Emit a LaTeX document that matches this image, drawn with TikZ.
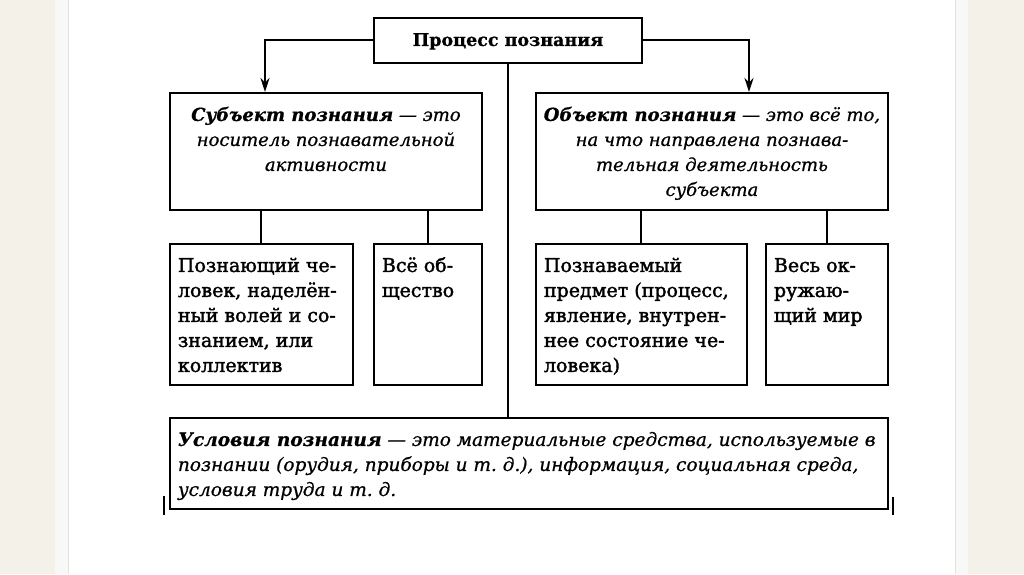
\documentclass[tikz,border=0pt]{standalone}
\usepackage{fontspec}
\setmainfont{DejaVu Serif}[FakeBold=0.8]
\newfontfamily\heavyfont{DejaVu Serif}[FakeBold=1.8]
\usetikzlibrary{arrows.meta}
\definecolor{PageCream}{HTML}{F4F2E8}
\definecolor{PageEdge}{HTML}{F8F8F7}
\definecolor{EdgeLine}{HTML}{E1E1E1}
\newcommand{\boxtext}[4]{\parbox[c][#2][t]{#1}{#3\rule{0pt}{28pt}#4}}

\begin{document}
\begin{tikzpicture}[x=1pt, y=-1pt,
    box/.style={draw, line width=1.9pt, anchor=north west, inner xsep=8pt, inner ysep=0pt,
      font=\fontsize{19}{25}\selectfont},
    plain/.style={box, font=\heavyfont\fontsize{19}{25}\selectfont},
    slanted/.style={box, inner xsep=2pt, font=\fontsize{18}{25}\selectfont},
    link/.style={line width=2pt},
    arr/.style={line width=2pt, -{Stealth[length=14pt,width=9pt]}}]
  \useasboundingbox (0,0) rectangle (1024,574);
  % page edges
  \fill[PageCream] (0,0) rectangle (55,574);
  \fill[PageEdge] (55,0) rectangle (68,574);
  \fill[PageEdge] (955,0) rectangle (968,574);
  \fill[PageCream] (968,0) rectangle (1024,574);
  \draw[EdgeLine] (68,0) -- (68,574);
  \draw[EdgeLine] (955,0) -- (955,574);

  \node[box, font=\fontsize{17.5}{25}\selectfont] at (373, 17) (proc) {\boxtext{252pt}{45pt}{\centering\bfseries}{Процесс познания}};
  \node[slanted] at (169, 92) (subj) {\boxtext{308pt}{117pt}{\centering\itshape}{\textbf{Субъект познания} — это\\носитель познавательной\\активности}};
  \node[slanted] at (535, 92) (obj) {\boxtext{348pt}{117pt}{\centering\itshape}{\textbf{Объект познания} — это всё то,\\на что направлена познава-\\тельная деятельность\\субъекта}};
  \node[plain] at (169, 243) (man) {\boxtext{167pt}{141pt}{\raggedright}{Познающий че-\\ловек, наделён-\\ный волей и со-\\знанием, или\\коллектив}};
  \node[plain] at (373, 243) (society) {\boxtext{92pt}{141pt}{\raggedright}{Всё об-\\щество}};
  \node[plain] at (535, 243) (thing) {\boxtext{195pt}{141pt}{\raggedright}{Познаваемый\\предмет (процесс,\\явление, внутрен-\\нее состояние че-\\ловека)}};
  \node[plain] at (765, 243) (world) {\boxtext{106pt}{141pt}{\raggedright}{Весь ок-\\ружаю-\\щий мир}};
  \node[slanted, inner xsep=8pt, font=\fontsize{18.5}{25}\selectfont] at (169, 417) (cond) {\boxtext{702pt}{91pt}{\raggedright\itshape}{\textbf{Условия познания} — это материальные средства, используемые в\\познании (орудия, приборы и т.~д.), информация, социальная среда,\\условия труда и т.~д.}};

  \coordinate (subjin) at (265, 92);
  \coordinate (objin) at (749, 92);
  \draw[arr] (proc.west) -| (subjin);
  \draw[arr] (proc.east) -| (objin);
  \draw[link] (proc.south) -- (proc.south |- cond.north);
  \draw[link] (man.north) -- (man.north |- subj.south);
  \draw[link] (society.north) -- (society.north |- subj.south);
  \draw[link] (thing.north) -- (thing.north |- obj.south);
  \draw[link] (world.north) -- (world.north |- obj.south);
  % marks at the foot of the last box
  \draw[link] ([xshift=-5pt, yshift=14pt]cond.south west) -- ([xshift=-5pt, yshift=-5pt]cond.south west);
  \draw[link] ([xshift=4pt, yshift=13pt]cond.south east) -- ([xshift=4pt, yshift=-5pt]cond.south east);
\end{tikzpicture}
\end{document}
